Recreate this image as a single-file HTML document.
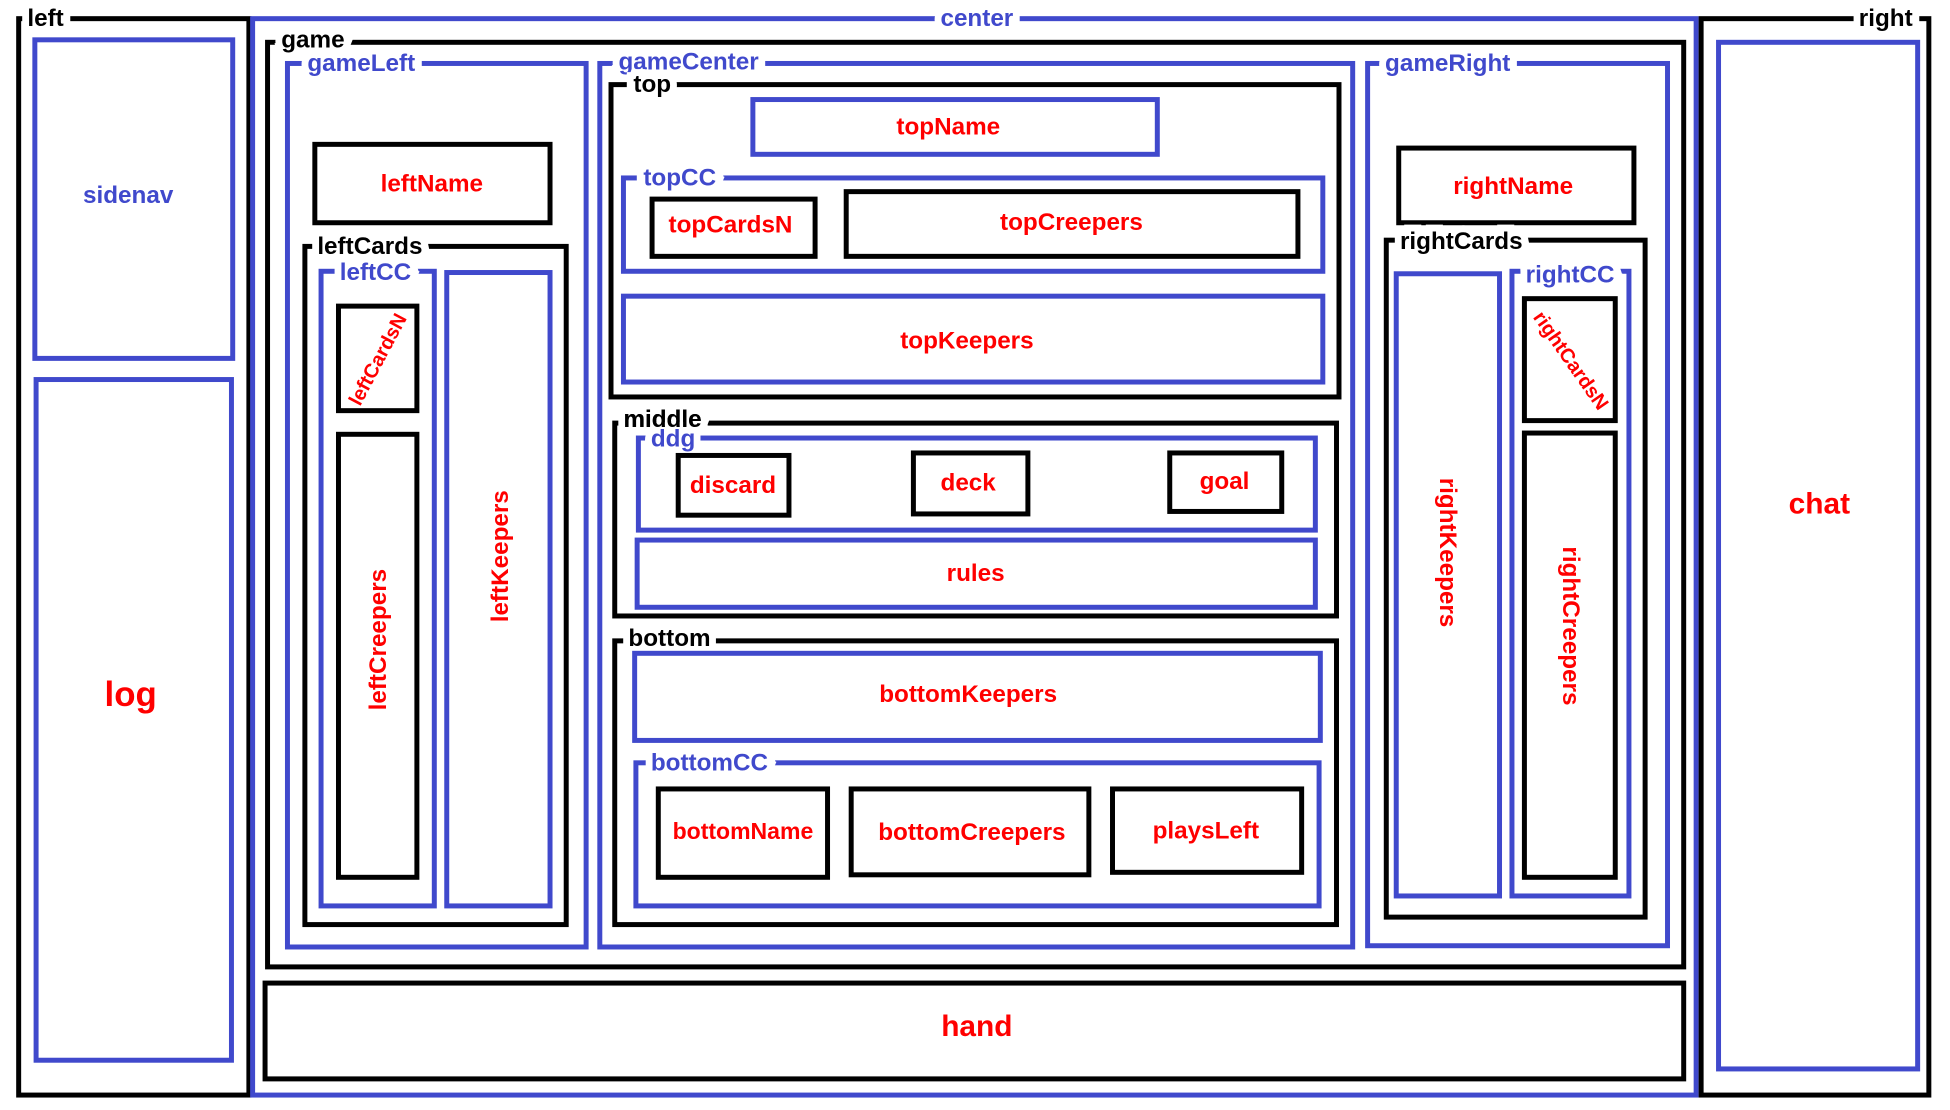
<!DOCTYPE html>
<html><head><meta charset="utf-8"><style>
html,body{margin:0;padding:0;background:#fff;width:1950px;height:1110px;overflow:hidden}
svg text{font-family:"Liberation Sans",sans-serif;font-weight:bold}
.k{fill:none;stroke:#000;stroke-width:4}
.b{fill:none;stroke:#4049CC;stroke-width:4}
.lk{fill:#000;font-size:19.5px;stroke:#fff;stroke-width:11;paint-order:stroke}
.lb{fill:#4049CC;font-size:19.5px;stroke:#fff;stroke-width:11;paint-order:stroke}
.r{fill:#f00;font-size:19.5px;text-anchor:middle;dominant-baseline:central}
</style></head><body>
<svg width="1950" height="1110" viewBox="0 0 1567 892" preserveAspectRatio="none" xmlns="http://www.w3.org/2000/svg">
<rect class="k" x="15" y="15" width="185" height="865"/>
<rect class="b" x="203" y="15" width="1160" height="865"/>
<rect class="k" x="1367" y="15" width="183" height="865"/>
<text class="lk" x="22" y="21">left</text>
<text class="lb" x="785" y="21" text-anchor="middle">center</text>
<text class="lk" x="1537" y="21" text-anchor="end">right</text>

<rect class="b" x="28" y="32" width="159" height="256"/>
<text class="r" x="103" y="157" style="fill:#4049CC">sidenav</text>
<rect class="b" x="29" y="305" width="157" height="547"/>
<text class="r" x="105" y="558" style="font-size:28px">log</text>
<rect class="b" x="1381" y="34" width="160" height="825"/>
<text class="r" x="1462" y="405" style="font-size:24px">chat</text>

<rect class="k" x="215" y="34" width="1138" height="743"/>
<text class="lk" x="226" y="38">game</text>
<rect class="k" x="213" y="790" width="1140" height="77"/>
<text class="r" x="785" y="825" style="font-size:24px">hand</text>

<rect class="b" x="231" y="51" width="240" height="710"/>
<text class="lb" x="247" y="57">gameLeft</text>
<rect class="k" x="253" y="116" width="189" height="63"/>
<text class="r" x="347" y="148">leftName</text>
<rect class="k" x="245" y="198" width="210" height="545"/>
<text class="lk" x="255" y="204">leftCards</text>
<rect class="b" x="258" y="218" width="91" height="510"/>
<text class="lb" x="273" y="225">leftCC</text>
<rect class="b" x="359" y="219" width="83" height="509"/>
<text class="r" transform="translate(402,447) rotate(-90)">leftKeepers</text>
<rect class="k" x="272" y="246" width="63" height="84"/>
<text class="r" style="font-size:16px" transform="translate(304,289) rotate(-62)">leftCardsN</text>
<rect class="k" x="272" y="349" width="63" height="356"/>
<text class="r" transform="translate(304,514) rotate(-90)">leftCreepers</text>

<rect class="b" x="482" y="51" width="605" height="710"/>
<text class="lb" x="497" y="56">gameCenter</text>
<rect class="k" x="491" y="68" width="585" height="251"/>
<text class="lk" x="509" y="74">top</text>
<rect class="b" x="605" y="80" width="325" height="44"/>
<text class="r" x="762" y="102">topName</text>
<rect class="b" x="501" y="143" width="562" height="75"/>
<text class="lb" x="517" y="149">topCC</text>
<rect class="k" x="524" y="160" width="131" height="46"/>
<text class="r" x="587" y="181">topCardsN</text>
<rect class="k" x="680" y="154" width="363" height="52"/>
<text class="r" x="861" y="179">topCreepers</text>
<rect class="b" x="501" y="238" width="562" height="69"/>
<text class="r" x="777" y="274">topKeepers</text>

<rect class="k" x="494" y="340" width="580" height="155"/>
<rect class="b" x="513" y="352" width="544" height="74"/>
<text class="lk" x="501" y="343">middle</text>
<text class="lb" x="523" y="359">ddg</text>
<text x="501" y="343" style="fill:#000;font-size:19.5px">middle</text>
<rect class="k" x="545" y="366" width="89" height="48"/>
<text class="r" x="589" y="390">discard</text>
<rect class="k" x="734" y="364" width="92" height="49"/>
<text class="r" x="778" y="388">deck</text>
<rect class="k" x="940" y="364" width="90" height="47"/>
<text class="r" x="984" y="387">goal</text>
<rect class="b" x="512" y="434" width="545" height="54"/>
<text class="r" x="784" y="461">rules</text>

<rect class="k" x="494" y="515" width="580" height="228"/>
<text class="lk" x="505" y="519">bottom</text>
<rect class="b" x="510" y="525" width="551" height="70"/>
<text class="r" x="778" y="558">bottomKeepers</text>
<rect class="b" x="511" y="613" width="549" height="115"/>
<text class="lb" x="523" y="619">bottomCC</text>
<rect class="k" x="529" y="634" width="136" height="71"/>
<text class="r" x="597" y="668" style="font-size:18.5px">bottomName</text>
<rect class="k" x="684" y="634" width="191" height="69"/>
<text class="r" x="781" y="669">bottomCreepers</text>
<rect class="k" x="894" y="634" width="152" height="67"/>
<text class="r" x="969" y="668">playsLeft</text>

<rect class="b" x="1099" y="51" width="241" height="709"/>
<text class="lb" x="1113" y="57">gameRight</text>
<rect class="k" x="1124" y="119" width="189" height="60"/>
<text class="r" x="1216" y="150">rightName</text>
<rect class="k" x="1114" y="193" width="208" height="544"/>
<text class="lk" x="1125" y="200">rightCards</text>
<rect class="b" x="1122" y="220" width="83" height="500"/>
<text class="r" transform="translate(1163,444) rotate(90)">rightKeepers</text>
<rect class="b" x="1215" y="218" width="94" height="502"/>
<text class="lb" x="1226" y="227">rightCC</text>
<rect class="k" x="1225" y="240" width="73" height="98"/>
<text class="r" style="font-size:16px" transform="translate(1262,290) rotate(55)">rightCardsN</text>
<rect class="k" x="1225" y="348" width="73" height="357"/>
<text class="r" transform="translate(1262,503) rotate(90)">rightCreepers</text>
</svg>
</body></html>
